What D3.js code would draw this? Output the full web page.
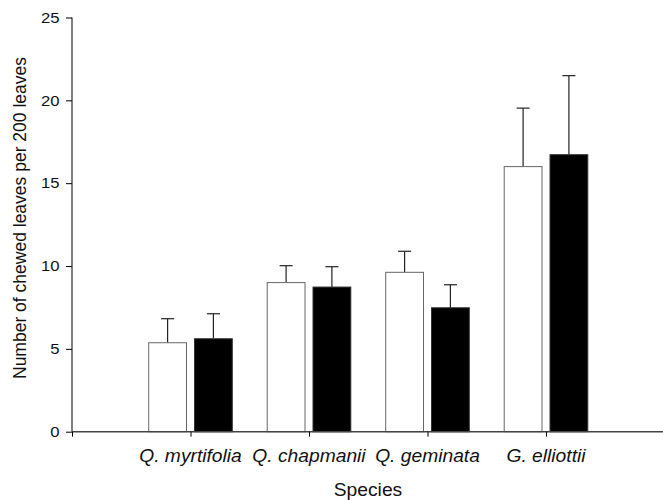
<!DOCTYPE html>
<html>
<head>
<meta charset="utf-8">
<script src="https://cdn.jsdelivr.net/npm/d3@7"></script>
<style>
  html, body { margin: 0; padding: 0; background: #fff; }
  svg { display: block; font-family: "Liberation Sans", Arial, sans-serif; }
</style>
</head>
<body>
<svg id="chart" width="663" height="500"></svg>
<script>
// Data
const species = ['Q. myrtifolia', 'Q. chapmanii', 'Q. geminata', 'G. elliottii'];
const whiteMeans = [5.37, 9.0, 9.62, 16.0];
const whiteErr   = [1.45, 1.02, 1.27, 3.53];
const blackMeans = [5.61, 8.73, 7.48, 16.72];
const blackErr   = [1.51, 1.23, 1.39, 4.77];
const yTicks = [0, 5, 10, 15, 20, 25];

(function () {
  'use strict';
  const svg = d3.select('#chart');

  // Category slots 1..4 on a linear axis that starts at slot 0
  const x = d3.scaleLinear().domain([0, 5]).range([72, 664.5]);
  const y = d3.scaleLinear().domain([0, 25]).range([431.7, 17.5]);

  const barW = 38.8;   // px
  const gap = 3.5;     // half gap between paired bars
  const capW = 13;
  const stretch = 1.1; // reference text is a bit wide for its height

  const series = [
    { means: whiteMeans, err: whiteErr, fill: '#fff', stroke: '#666', off: -gap - barW },
    { means: blackMeans, err: blackErr, fill: '#000', stroke: '#333', off: gap }
  ];

  const g = svg.append('g');

  series.forEach((s) => {
    const rows = species.map((name, i) => ({ i, v: s.means[i], e: s.err[i] }));
    const cx = (d) => x(d.i + 1) + s.off + barW / 2;

    // error bars (upper only) — drawn first, bar covers the bottom
    g.append('g').selectAll('line.err')
      .data(rows).join('line')
      .attr('x1', cx).attr('x2', cx)
      .attr('y1', (d) => y(d.v)).attr('y2', (d) => y(d.v + d.e))
      .attr('stroke', '#222').attr('stroke-width', 1.2);
    g.append('g').selectAll('line.cap')
      .data(rows).join('line')
      .attr('x1', (d) => cx(d) - capW / 2).attr('x2', (d) => cx(d) + capW / 2)
      .attr('y1', (d) => y(d.v + d.e)).attr('y2', (d) => y(d.v + d.e))
      .attr('stroke', '#222').attr('stroke-width', 1.2);

    g.append('g').selectAll('rect')
      .data(rows).join('rect')
      .attr('x', (d) => x(d.i + 1) + s.off + 0.5)
      .attr('y', (d) => y(d.v))
      .attr('width', barW - 1)
      .attr('height', (d) => y(0) - y(d.v))
      .attr('fill', s.fill)
      .attr('stroke', s.stroke)
      .attr('stroke-width', 1);
  });

  // Y axis (labels drawn separately so they can be stretched)
  const yAxis = svg.append('g')
    .attr('transform', `translate(${x(0)},0)`)
    .call(d3.axisLeft(y).tickValues(yTicks).tickSize(6).tickFormat(''));
  yAxis.select('.domain').attr('d', `M0,${y(0)}V${y(25)}`).attr('stroke', '#000');
  yAxis.selectAll('.tick line').attr('stroke', '#000');

  svg.append('g').selectAll('text')
    .data(yTicks).join('text')
    .attr('transform', (d) => `translate(59.5,${y(d)}) scale(1.15,1)`)
    .attr('dy', '0.36em')
    .attr('text-anchor', 'end')
    .attr('font-size', 14.5)
    .attr('fill', '#111')
    .text((d) => d);

  // X axis
  const xAxis = svg.append('g')
    .attr('transform', `translate(0,${y(0)})`)
    .call(d3.axisBottom(x).tickValues([0, 1, 2, 3, 4]).tickSize(5).tickFormat(''));
  xAxis.select('.domain').attr('d', `M${x(0)},0H663`).attr('stroke', '#444').attr('stroke-width', 1.5);
  xAxis.selectAll('.tick line').attr('stroke', '#000');

  svg.append('g').selectAll('text')
    .data(species).join('text')
    .attr('transform', (d, i) => `translate(${x(i + 1)},462) scale(${stretch},1)`)
    .attr('text-anchor', 'middle')
    .attr('font-size', 17.5)
    .attr('font-style', 'italic')
    .attr('fill', '#111')
    .text((d) => d);

  svg.append('text')
    .attr('transform', `translate(368,496) scale(${stretch},1)`)
    .attr('text-anchor', 'middle')
    .attr('font-size', 17.5).attr('fill', '#111')
    .text('Species');

  svg.append('text')
    .attr('transform', 'translate(26,218) rotate(-90)')
    .attr('text-anchor', 'middle')
    .attr('font-size', 17.5).attr('fill', '#111')
    .text('Number of chewed leaves per 200 leaves');
})();
</script>
</body>
</html>
